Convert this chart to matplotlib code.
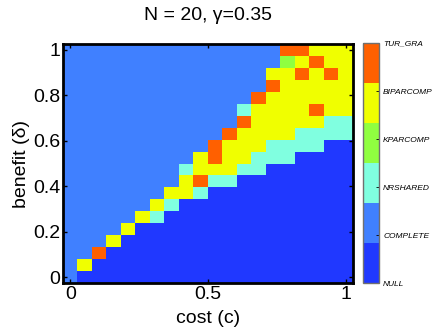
import numpy as np
import matplotlib
matplotlib.use('Agg')
import matplotlib.pyplot as plt
from matplotlib.colors import ListedColormap, Normalize
from matplotlib.cm import ScalarMappable

plt.rcParams['font.family'] = ['Liberation Sans', 'DejaVu Sans']

# phase labels (colorbar) and their colours, code 0..5
phases = ['NULL', 'COMPLETE', 'NRSHARED', 'KPARCOMP', 'BIPARCOMP', 'TUR_GRA']
colors = ['#2038FF', '#4080FF', '#80FFE0', '#90FF40', '#F0FF00', '#FF6000']

# grid axes: 20 x 20 points from 0 to 1
cost = np.linspace(0, 1, 20)
benefit = np.linspace(0, 1, 20)

# phase code per benefit row (bottom = benefit 0), one value per cost
phase_rows = [
    [1, 0, 0, 0, 0, 0, 0, 0, 0, 0, 0, 0, 0, 0, 0, 0, 0, 0, 0, 0],
    [1, 4, 0, 0, 0, 0, 0, 0, 0, 0, 0, 0, 0, 0, 0, 0, 0, 0, 0, 0],
    [1, 1, 5, 0, 0, 0, 0, 0, 0, 0, 0, 0, 0, 0, 0, 0, 0, 0, 0, 0],
    [1, 1, 1, 4, 0, 0, 0, 0, 0, 0, 0, 0, 0, 0, 0, 0, 0, 0, 0, 0],
    [1, 1, 1, 1, 4, 0, 0, 0, 0, 0, 0, 0, 0, 0, 0, 0, 0, 0, 0, 0],
    [1, 1, 1, 1, 1, 4, 2, 0, 0, 0, 0, 0, 0, 0, 0, 0, 0, 0, 0, 0],
    [1, 1, 1, 1, 1, 1, 4, 2, 0, 0, 0, 0, 0, 0, 0, 0, 0, 0, 0, 0],
    [1, 1, 1, 1, 1, 1, 1, 4, 4, 2, 0, 0, 0, 0, 0, 0, 0, 0, 0, 0],
    [1, 1, 1, 1, 1, 1, 1, 1, 4, 5, 2, 2, 0, 0, 0, 0, 0, 0, 0, 0],
    [1, 1, 1, 1, 1, 1, 1, 1, 2, 4, 4, 4, 2, 2, 0, 0, 0, 0, 0, 0],
    [1, 1, 1, 1, 1, 1, 1, 1, 1, 4, 5, 4, 4, 2, 2, 2, 0, 0, 0, 0],
    [1, 1, 1, 1, 1, 1, 1, 1, 1, 1, 5, 4, 4, 4, 2, 2, 2, 2, 0, 0],
    [1, 1, 1, 1, 1, 1, 1, 1, 1, 1, 1, 5, 4, 4, 4, 4, 2, 2, 2, 2],
    [1, 1, 1, 1, 1, 1, 1, 1, 1, 1, 1, 1, 5, 4, 4, 4, 4, 4, 2, 2],
    [1, 1, 1, 1, 1, 1, 1, 1, 1, 1, 1, 1, 2, 4, 4, 4, 4, 5, 4, 4],
    [1, 1, 1, 1, 1, 1, 1, 1, 1, 1, 1, 1, 1, 5, 4, 4, 4, 4, 4, 4],
    [1, 1, 1, 1, 1, 1, 1, 1, 1, 1, 1, 1, 1, 1, 5, 4, 4, 4, 4, 4],
    [1, 1, 1, 1, 1, 1, 1, 1, 1, 1, 1, 1, 1, 1, 4, 4, 5, 4, 5, 4],
    [1, 1, 1, 1, 1, 1, 1, 1, 1, 1, 1, 1, 1, 1, 1, 3, 4, 5, 4, 4],
    [1, 1, 1, 1, 1, 1, 1, 1, 1, 1, 1, 1, 1, 1, 1, 5, 5, 4, 4, 4],
]

grid = np.array(phase_rows)
cmap = ListedColormap(colors)
dc = cost[1] - cost[0]
db = benefit[1] - benefit[0]

fig = plt.figure(figsize=(4.36, 3.29), dpi=100)
ax = fig.add_axes([63 / 436, 1 - 283 / 329, 290 / 436, 239 / 329])
ax.imshow(grid, origin='lower', cmap=cmap, vmin=-0.5, vmax=5.5,
          interpolation='nearest', aspect='auto',
          extent=[cost[0] - dc / 2, cost[-1] + dc / 2,
                  benefit[0] - db / 2, benefit[-1] + db / 2])

ax.set_xticks([0, 0.5, 1])
ax.set_xticklabels(['0', '0.5', '1'])
ax.set_yticks([0, 0.2, 0.4, 0.6, 0.8, 1])
ax.set_yticklabels(['0', '0.2', '0.4', '0.6', '0.8', '1'])
ax.tick_params(direction='in', length=3, width=1, labelsize=14, pad=2,
               top=True, right=True)
for s in ax.spines.values():
    s.set_linewidth(2)
ax.set_xlabel('cost (c)', fontsize=14, labelpad=5)
ax.set_ylabel('benefit (δ)', fontsize=14, labelpad=2)
ax.set_title('N = 20, γ=0.35', fontsize=14, pad=17)

cax = fig.add_axes([363 / 436, 1 - 283 / 329, 16 / 436, 240 / 329])
cb = fig.colorbar(ScalarMappable(norm=Normalize(0, 5), cmap=cmap), cax=cax,
                  ticks=range(len(phases)))
cb.set_ticklabels(phases)
cb.outline.set_edgecolor('#707070')
cb.outline.set_linewidth(1)
cax.tick_params(direction='in', length=2, width=0.6, labelsize=6, pad=3)
for t in cax.get_yticklabels():
    t.set_fontstyle('italic')

fig.savefig('out.png', dpi=100)
